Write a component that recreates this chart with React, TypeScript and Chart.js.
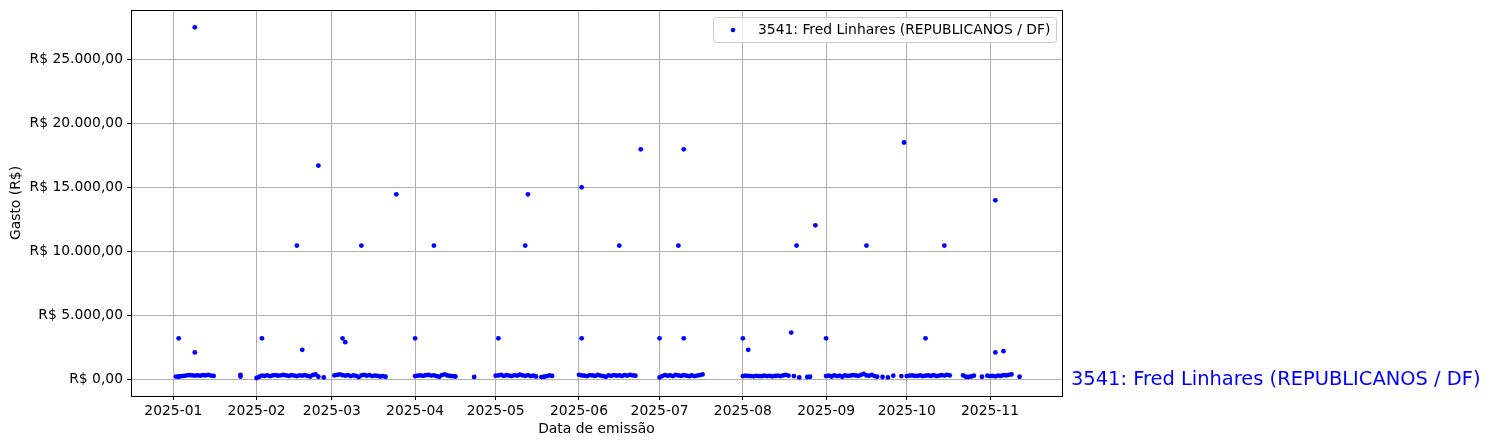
import React, { useEffect, useRef } from "react";
import { Chart, registerables } from "chart.js";

Chart.register(...registerables);

const seriesLabel = "3541: Fred Linhares (REPUBLICANOS / DF)";
const xTitle = "Data de emissão";
const yTitle = "Gasto (R$)";
const monthTicks = ["2025-01", "2025-02", "2025-03", "2025-04", "2025-05", "2025-06", "2025-07", "2025-08", "2025-09", "2025-10", "2025-11"];
const yTicks = [0, 5000, 10000, 15000, 20000, 25000];

const dates: string[] = [
  "2025-01-02", "2025-01-03", "2025-01-03", "2025-01-04", "2025-01-03", "2025-01-05", "2025-01-06", "2025-01-07", "2025-01-08", "2025-01-09",
  "2025-01-10", "2025-01-09", "2025-01-09", "2025-01-11", "2025-01-12", "2025-01-13", "2025-01-14", "2025-01-15", "2025-01-16",
  "2025-01-26", "2025-01-26",
  "2025-02-01", "2025-02-02", "2025-02-03", "2025-02-04", "2025-02-03", "2025-02-05", "2025-02-06", "2025-02-07", "2025-02-08", "2025-02-09",
  "2025-02-10", "2025-02-11", "2025-02-12", "2025-02-13", "2025-02-14", "2025-02-15", "2025-02-16", "2025-02-16", "2025-02-17", "2025-02-18",
  "2025-02-18", "2025-02-19", "2025-02-20", "2025-02-21", "2025-02-22", "2025-02-23", "2025-02-24", "2025-02-24", "2025-02-26",
  "2025-03-02", "2025-03-03", "2025-03-04", "2025-03-05", "2025-03-05", "2025-03-06", "2025-03-06", "2025-03-07", "2025-03-08", "2025-03-09",
  "2025-03-10", "2025-03-11", "2025-03-12", "2025-03-12", "2025-03-13", "2025-03-14", "2025-03-15", "2025-03-16", "2025-03-17", "2025-03-18",
  "2025-03-19", "2025-03-20", "2025-03-21", "2025-03-25",
  "2025-04-01", "2025-04-01", "2025-04-02", "2025-04-03", "2025-04-04", "2025-04-05", "2025-04-06", "2025-04-07", "2025-04-08", "2025-04-08",
  "2025-04-09", "2025-04-10", "2025-04-11", "2025-04-12", "2025-04-13", "2025-04-14", "2025-04-15", "2025-04-16", "2025-04-23",
  "2025-05-02", "2025-05-01", "2025-05-02", "2025-05-03", "2025-05-04", "2025-05-05", "2025-05-06", "2025-05-07", "2025-05-08", "2025-05-09",
  "2025-05-10", "2025-05-11", "2025-05-12", "2025-05-12", "2025-05-13", "2025-05-13", "2025-05-14", "2025-05-15", "2025-05-16", "2025-05-18",
  "2025-05-19", "2025-05-20", "2025-05-21", "2025-05-22",
  "2025-06-01", "2025-06-02", "2025-06-02", "2025-06-02", "2025-06-03", "2025-06-04", "2025-06-05", "2025-06-06", "2025-06-07", "2025-06-08",
  "2025-06-09", "2025-06-10", "2025-06-11", "2025-06-12", "2025-06-13", "2025-06-14", "2025-06-15", "2025-06-16", "2025-06-16", "2025-06-17",
  "2025-06-18", "2025-06-19", "2025-06-20", "2025-06-21", "2025-06-22", "2025-06-24",
  "2025-07-01", "2025-07-01", "2025-07-02", "2025-07-03", "2025-07-04", "2025-07-05", "2025-07-06", "2025-07-07", "2025-07-08", "2025-07-08",
  "2025-07-09", "2025-07-10", "2025-07-10", "2025-07-10", "2025-07-11", "2025-07-12", "2025-07-13", "2025-07-14", "2025-07-15", "2025-07-16",
  "2025-07-17",
  "2025-08-01", "2025-08-01", "2025-08-02", "2025-08-03", "2025-08-03", "2025-08-04", "2025-08-05", "2025-08-06", "2025-08-07", "2025-08-08",
  "2025-08-09", "2025-08-10", "2025-08-11", "2025-08-12", "2025-08-13", "2025-08-14", "2025-08-15", "2025-08-16", "2025-08-17", "2025-08-18",
  "2025-08-19", "2025-08-20", "2025-08-21", "2025-08-22", "2025-08-25", "2025-08-26", "2025-08-28",
  "2025-09-01", "2025-09-01", "2025-09-02", "2025-09-03", "2025-09-04", "2025-09-05", "2025-09-06", "2025-09-07", "2025-09-08", "2025-09-09",
  "2025-09-10", "2025-09-11", "2025-09-12", "2025-09-13", "2025-09-14", "2025-09-15", "2025-09-16", "2025-09-16", "2025-09-17", "2025-09-18",
  "2025-09-19", "2025-09-20", "2025-09-22", "2025-09-24", "2025-09-26", "2025-09-29",
  "2025-09-30", "2025-10-01", "2025-10-02", "2025-10-03", "2025-10-04", "2025-10-05", "2025-10-06", "2025-10-07", "2025-10-08", "2025-10-08",
  "2025-10-09", "2025-10-10", "2025-10-11", "2025-10-12", "2025-10-13", "2025-10-14", "2025-10-15", "2025-10-15", "2025-10-16", "2025-10-17",
  "2025-10-22", "2025-10-23", "2025-10-24", "2025-10-25", "2025-10-26", "2025-10-29",
  "2025-10-31", "2025-11-01", "2025-11-03", "2025-11-03", "2025-11-02", "2025-11-03", "2025-11-04", "2025-11-06", "2025-11-05", "2025-11-06",
  "2025-11-07", "2025-11-08", "2025-11-09", "2025-11-12",
];

const gastos: number[] = [
  210, 190, 230, 240, 3200, 260, 300, 330, 300, 290,
  310, 27500, 2100, 280, 320, 300, 340, 290, 260,
  350, 210,
  100, 200, 290, 260, 3200, 310, 250, 300, 330, 280,
  310, 340, 300, 260, 320, 290, 250, 10450, 300, 280,
  2300, 320, 260, 220, 340, 380, 200, 16700, 150,
  300, 350, 380, 3200, 320, 2900, 280, 330, 250, 300,
  270, 180, 10450, 300, 350, 280, 330, 250, 290, 260,
  220, 250, 200, 14450,
  3200, 250, 280, 300, 260, 320, 340, 290, 10450, 310,
  250, 200, 330, 380, 300, 260, 240, 220, 180,
  3200, 280, 300, 350, 260, 320, 290, 250, 330, 280,
  360, 300, 10450, 270, 14450, 320, 250, 290, 220, 170,
  200, 250, 300, 260,
  350, 15000, 3200, 300, 280, 250, 320, 300, 260, 340,
  290, 250, 200, 300, 270, 330, 280, 10450, 300, 260,
  320, 290, 350, 300, 280, 17970,
  3200, 150, 250, 330, 280, 300, 250, 350, 10450, 300,
  260, 17970, 3200, 320, 280, 240, 300, 250, 290, 330,
  380,
  3200, 250, 280, 2300, 260, 250, 230, 270, 250, 240,
  280, 250, 260, 230, 260, 280, 250, 300, 350, 280,
  3650, 250, 10450, 150, 180, 200, 12030,
  3200, 250, 280, 220, 300, 250, 280, 200, 300, 260,
  280, 330, 300, 260, 350, 420, 10450, 300, 280, 350,
  250, 200, 180, 150, 280, 250,
  18500, 250, 280, 300, 260, 270, 300, 250, 3200, 280,
  300, 260, 320, 250, 280, 330, 10450, 290, 350, 300,
  300, 200, 180, 220, 280, 200,
  280, 250, 13980, 2100, 260, 230, 280, 2200, 260, 330,
  300, 350, 380, 200,
];

const BASE = Date.UTC(2025, 0, 1);
const dayOf = (s: string) => {
  const [y, m, d] = s.split("-").map(Number);
  return (Date.UTC(y, m - 1, d || 1) - BASE) / 86400000;
};

const fmtBRL = (v: number) => {
  const parts = v.toFixed(2).split(".");
  const intPart = parts[0].replace(/\B(?=(\d{3})+(?!\d))/g, ".");
  return "R$ " + intPart + "," + parts[1];
};

const FONT = "DejaVu Sans";
const FS = 13.89;

export default function App() {
  const ref = useRef<HTMLCanvasElement | null>(null);
  useEffect(() => {
    if (!ref.current) return;
    const points = dates.map((d, i) => ({ x: dayOf(d), y: gastos[i] }));
    const framePlugin = {
      id: "frameAndLabels",
      afterDatasetsDraw(chart: any) {
        const { ctx, chartArea } = chart;
        const { left, right, top, bottom } = chartArea;
        ctx.save();
        ctx.strokeStyle = "#000";
        ctx.lineWidth = 1;
        const r = Math.round(right) + 0.5;
        const t = Math.round(top) + 0.5;
        ctx.beginPath();
        ctx.moveTo(Math.round(left), t);
        ctx.lineTo(r, t);
        ctx.lineTo(r, Math.round(bottom) + 0.5);
        ctx.stroke();
        // legend
        const bw = 343, bh = 25;
        const bx = right - 6 - bw, by = top + 7;
        ctx.beginPath();
        (ctx as any).roundRect(bx + 0.5, by + 0.5, bw, bh, 3);
        ctx.fillStyle = "rgba(255,255,255,0.8)";
        ctx.fill();
        ctx.strokeStyle = "#cccccc";
        ctx.stroke();
        ctx.beginPath();
        ctx.arc(bx + 20, by + bh / 2 + 0.5, 2.3, 0, Math.PI * 2);
        ctx.fillStyle = "blue";
        ctx.fill();
        ctx.fillStyle = "#000";
        ctx.font = `${FS}px "${FONT}"`;
        ctx.textBaseline = "middle";
        ctx.textAlign = "left";
        ctx.fillText(seriesLabel, bx + 45, by + bh / 2 + 1);
        // right side label
        const y0 = chart.scales.y.getPixelForValue(0);
        ctx.fillStyle = "blue";
        ctx.font = `19.44px "${FONT}"`;
        ctx.fillText(seriesLabel, right + 9, y0 + 1);
        ctx.restore();
      },
    };
    const chart = new Chart(ref.current, {
      type: "scatter",
      data: {
        datasets: [
          {
            label: seriesLabel,
            data: points,
            backgroundColor: "blue",
            borderColor: "blue",
            borderWidth: 0,
            pointRadius: 2.4,
            pointHoverRadius: 2.4,
          },
        ],
      },
      options: {
        animation: false,
        responsive: false,
        maintainAspectRatio: false,
        events: [],
        layout: { padding: { top: 10, right: 429, left: 0, bottom: 0 } },
        plugins: { legend: { display: false }, tooltip: { enabled: false } },
        scales: {
          x: {
            type: "linear",
            min: -15.75,
            max: 330.8,
            afterBuildTicks: (axis: any) => {
              axis.ticks = monthTicks.map((m) => ({ value: dayOf(m + "-01") }));
            },
            afterFit: (axis: any) => {
              axis.height = 52;
              axis.paddingLeft = 0;
              axis.paddingRight = 0;
            },
            ticks: {
              autoSkip: false,
              maxRotation: 0,
              padding: 3,
              color: "#000",
              font: { family: FONT, size: FS },
              callback: (_v: any, i: number) => monthTicks[i],
            },
            grid: { color: "#b0b0b0", lineWidth: 1, tickLength: 4, tickColor: "#000", drawTicks: true },
            border: { display: true, color: "#000", width: 1 },
            title: { display: true, text: xTitle, color: "#000", font: { family: FONT, size: FS }, padding: { top: 0, bottom: 10 } },
          },
          y: {
            type: "linear",
            min: -1305,
            max: 28852,
            afterBuildTicks: (axis: any) => {
              axis.ticks = yTicks.map((v) => ({ value: v }));
            },
            afterFit: (axis: any) => {
              axis.width = 131;
              axis.paddingTop = 0;
              axis.paddingBottom = 0;
            },
            ticks: {
              padding: 4,
              color: "#000",
              font: { family: FONT, size: FS },
              callback: (v: any) => fmtBRL(Number(v)),
            },
            grid: { color: "#b0b0b0", lineWidth: 1, tickLength: 4, tickColor: "#000", drawTicks: true },
            border: { display: true, color: "#000", width: 1 },
            title: { display: true, text: yTitle, color: "#000", font: { family: FONT, size: FS }, padding: { top: 8, bottom: 0 } },
          },
        },
      },
      plugins: [framePlugin],
    } as any);
    return () => chart.destroy();
  }, []);
  return (
    <div style={{ position: "fixed", left: 0, top: 0, width: 1491, height: 448, background: "#fff" }}>
      <canvas ref={ref} width={1491} height={448} style={{ width: 1491, height: 448, display: "block" }} />
    </div>
  );
}
